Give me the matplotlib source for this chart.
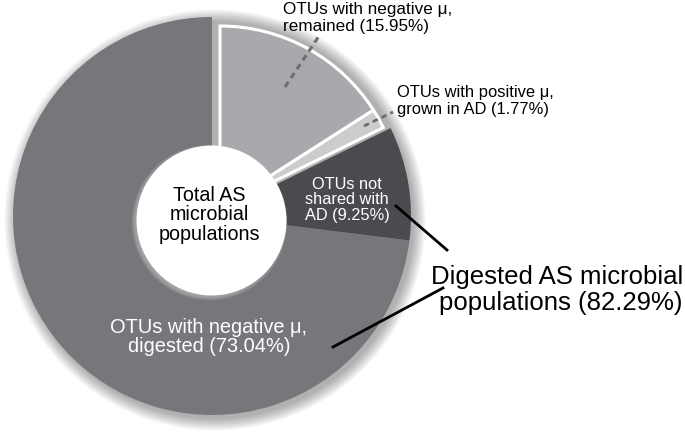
import numpy as np
import matplotlib
matplotlib.use("Agg")
import matplotlib.pyplot as plt
from matplotlib.patches import Circle

# Datos del gráfico (porcentajes de OTUs)
labels = ["OTUs with negative μ,\ndigested (73.04%)",
          "OTUs not\nshared with\nAD (9.25%)",
          "OTUs with positive μ,\ngrown in AD (1.77%)",
          "OTUs with negative μ,\nremained (15.95%)"]
values = [73.04, 9.25, 1.77, 15.95]
colors = ["#76777b", "#4a4b4e", "#cbccce", "#a8a9ac"]
center_label = "Total AS\nmicrobial\npopulations"
group_label = "Digested AS microbial\npopulations (82.29%)"

W, H = 685, 437
fig = plt.figure(figsize=(W / 100, H / 100), dpi=100)
ax = fig.add_axes([0, 0, 1, 1])
ax.set_aspect("equal")

plt.rcParams["font.family"] = ["Liberation Sans", "DejaVu Sans"]

cx, cy, R = 212, H - 216, 199

# sombra difusa alrededor del anillo
for i in range(14):
    ax.add_patch(Circle((cx + 3, cy - 4), R + i * 0.9, color="k", alpha=0.025, lw=0, zorder=0))

wedges, _ = ax.pie(values, colors=colors, startangle=90, counterclock=True,
                   radius=R, center=(cx, cy), frame=True,
                   wedgeprops=dict(linewidth=0))
ax.set_xlim(0, W)
ax.set_ylim(0, H)
ax.axis("off")

# las dos porciones claras van separadas y algo más pequeñas
for w in wedges[2:]:
    w.set_center((cx + 8, cy + 8))
    w.set_radius(182)
    w.set_edgecolor("white")
    w.set_linewidth(2.2)
    w.set_zorder(2)

# agujero central con una sombra suave
for i in range(8):
    ax.add_patch(Circle((211 - 1.5, H - 221 - 1.5), 78 - i * 0.5, color="#c4c4c4",
                        alpha=0.1, lw=0, zorder=3))
ax.add_patch(Circle((211 + 0.5, H - 221 + 0.5), 75, color="white", lw=0, zorder=4))

ax.text(209, H - 215, center_label, ha="center", va="center", fontsize=14.2,
        linespacing=1.05, color="black", zorder=5)
ax.text(347, H - 200, labels[1], ha="center", va="center", fontsize=11.8,
        linespacing=1.05, color="white", zorder=5)
ax.text(209, H - 337, labels[0], ha="center", va="center", fontsize=14.4,
        linespacing=1.05, color="white", zorder=5)
ax.text(283, H - 18, labels[3], ha="left", va="center", fontsize=12.3,
        linespacing=1.1, color="black", zorder=5)
ax.text(397, H - 101, labels[2], ha="left", va="center", fontsize=11.9,
        linespacing=1.1, color="black", zorder=5)
ax.text(683, H - 290, group_label, ha="right", va="center", fontsize=18.5,
        linespacing=1.1, color="black", zorder=5)

# líneas guía
ax.plot([285, 319], [H - 87, H - 36], color="#6e6e6e", lw=2.2, ls=(0, (2, 1.5)), zorder=5)
ax.plot([364, 393], [H - 126, H - 112], color="#6e6e6e", lw=2.0, ls=(0, (2, 1.5)), zorder=5)
ax.plot([396, 447], [H - 206, H - 250], color="black", lw=2.0, zorder=5)
ax.plot([333, 443], [H - 347, H - 288], color="black", lw=2.0, zorder=5)

fig.savefig("out.png", dpi=100)
